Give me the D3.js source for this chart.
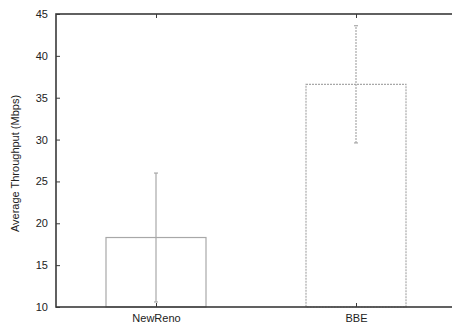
<!DOCTYPE html>
<html>
<head>
<meta charset="utf-8">
<script src="https://cdn.jsdelivr.net/npm/d3@7"></script>
<style>
  html, body { margin: 0; padding: 0; background: #fff; }
  svg { display: block; }
  text { font-family: "Liberation Sans", Arial, sans-serif; fill: #222; }
</style>
</head>
<body>
<svg id="chart" width="452" height="326"></svg>
<script>
// Mean throughput per TCP variant with error range (min / max)
const categories = ["NewReno", "BBE"];
const means = [18.3, 36.6];
const errLow = [10.6, 29.6];
const errHigh = [26.0, 43.6];
const yTicks = [10, 15, 20, 25, 30, 35, 40, 45];

const svg = d3.select("#chart");

// Plot frame: continuous x axis from 0.5 to 2.5, categories at 1 and 2
const x = d3.scaleLinear().domain([0.5, 2.5]).range([56, 456]);
const y = d3.scaleLinear().domain([10, 45]).range([307, 14]);
const barHalf = 0.25;
const frameColor = "#3a3a3a";
const barColor = "#a8a8a8";

// Bars
const bars = svg.append("g");
categories.forEach((c, i) => {
  const pos = i + 1;
  bars.append("rect")
    .attr("x", x(pos - barHalf))
    .attr("y", y(means[i]))
    .attr("width", x(pos + barHalf) - x(pos - barHalf))
    .attr("height", y(10) - y(means[i]))
    .attr("fill", "none")
    .attr("stroke", barColor)
    .attr("stroke-width", 1.2)
    .attr("stroke-dasharray", i === 1 ? "2,1" : null);
});

// Error bars
const errs = svg.append("g");
categories.forEach((c, i) => {
  const cx = x(i + 1);
  const dash = i === 1 ? "2,1" : null;
  errs.append("line")
    .attr("x1", cx).attr("x2", cx)
    .attr("y1", y(errLow[i])).attr("y2", y(errHigh[i]))
    .attr("stroke", barColor).attr("stroke-width", 1.2)
    .attr("stroke-dasharray", dash);
  [errLow[i], errHigh[i]].forEach(v => {
    errs.append("line")
      .attr("x1", cx - 2).attr("x2", cx + 2)
      .attr("y1", y(v)).attr("y2", y(v))
      .attr("stroke", barColor).attr("stroke-width", 1.2);
  });
});

// Axes (gnuplot-style inward ticks on all four sides)
const tickLen = 4;
const axisL = d3.axisLeft(y).tickValues(yTicks).tickSize(-tickLen).tickPadding(8).tickFormat(d3.format("d"));
const axisR = d3.axisRight(y).tickValues(yTicks).tickSize(-tickLen).tickFormat("");
const axisB = d3.axisBottom(x).tickValues([1, 2]).tickSize(-tickLen).tickPadding(7)
  .tickFormat(d => categories[d - 1]);
const axisT = d3.axisTop(x).tickValues([1, 2]).tickSize(-tickLen).tickFormat("");

function styleAxis(g) {
  g.select(".domain").remove();
  g.selectAll(".tick line").attr("stroke", frameColor).attr("stroke-width", 1);
  g.selectAll(".tick text").attr("font-size", 11).attr("fill", "#222")
    .style("font-family", "'Liberation Sans', Arial, sans-serif");
}

svg.append("g").attr("transform", `translate(${x(0.5)},0)`).call(axisL).call(styleAxis);
svg.append("g").attr("transform", `translate(${x(2.5)},0)`).call(axisR).call(styleAxis);
svg.append("g").attr("transform", `translate(0,${y(10)})`).call(axisB).call(styleAxis);
svg.append("g").attr("transform", `translate(0,${y(45)})`).call(axisT).call(styleAxis);

// Frame
svg.append("rect")
  .attr("x", x(0.5)).attr("y", y(45))
  .attr("width", x(2.5) - x(0.5)).attr("height", y(10) - y(45))
  .attr("fill", "none").attr("stroke", frameColor).attr("stroke-width", 1.6);

// Y axis title
svg.append("text")
  .attr("transform", `translate(19,${(y(45) + y(10)) / 2 + 3}) rotate(-90)`)
  .attr("text-anchor", "middle")
  .attr("font-size", 11)
  .attr("fill", "#333")
  .text("Average Throughput (Mbps)");
</script>
</body>
</html>
